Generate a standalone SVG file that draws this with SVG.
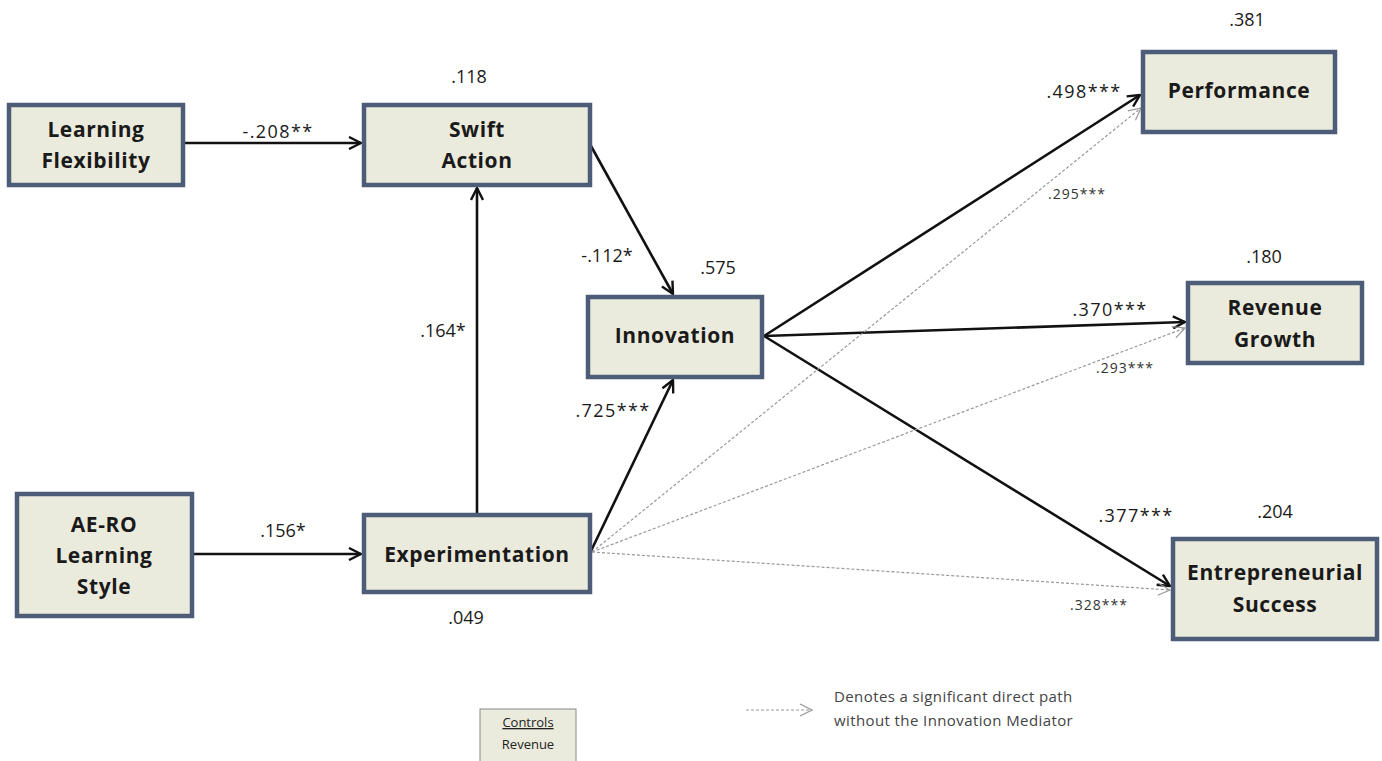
<svg xmlns="http://www.w3.org/2000/svg" width="1382" height="761" viewBox="0 0 1382 761">
<defs>
<marker id="ah" viewBox="0 0 14 14" refX="13" refY="7" markerWidth="14" markerHeight="14" markerUnits="userSpaceOnUse" orient="auto">
<path d="M1,1 L13,7 L1,13" fill="none" stroke="#111" stroke-width="2.4"/>
</marker>
<marker id="ahd" viewBox="0 0 14 14" refX="13" refY="7" markerWidth="14" markerHeight="14" markerUnits="userSpaceOnUse" orient="auto">
<path d="M1,1 L13,7 L1,13" fill="none" stroke="#999" stroke-width="1.2"/>
</marker>
<style>
.box{fill:#ebebdd;stroke:#4d5d78;stroke-width:4.5}
.nt{font-family:"Open Sans","Liberation Sans",sans-serif;font-weight:bold;font-size:21px;fill:#1a1a1a;text-anchor:middle;letter-spacing:0.6px}
.num{font-family:"Open Sans","Liberation Sans",sans-serif;font-size:18px;fill:#1a1a1a;text-anchor:middle}
.st{letter-spacing:1.4px}
.sm{font-family:"Open Sans","Liberation Sans",sans-serif;font-size:14px;fill:#333;text-anchor:middle;letter-spacing:1px}
.solid{stroke:#111;stroke-width:2.6;fill:none;marker-end:url(#ah)}
.dash{stroke:#999;stroke-width:1.2;stroke-dasharray:3 2;fill:none;marker-end:url(#ahd)}
.leg{font-family:"Open Sans","Liberation Sans",sans-serif;font-size:15px;fill:#444;letter-spacing:0.4px}
.ctl{font-family:"Open Sans","Liberation Sans",sans-serif;font-size:13px;fill:#222;text-anchor:middle}
</style>
</defs>
<rect width="1382" height="761" fill="#ffffff"/>

<g id="connectors">
<line class="solid" x1="185" y1="143" x2="361" y2="143"/>
<line class="solid" x1="591" y1="146" x2="673" y2="294"/>
<line class="solid" x1="477" y1="513" x2="477" y2="188"/>
<line class="solid" x1="194" y1="554" x2="361" y2="554"/>
<line class="solid" x1="591" y1="551" x2="673" y2="380"/>
<line class="solid" x1="764" y1="336" x2="1140" y2="95"/>
<line class="solid" x1="764" y1="336" x2="1185" y2="322"/>
<line class="solid" x1="764" y1="336" x2="1170" y2="586"/>
<line class="dash" x1="592" y1="552" x2="1141" y2="108"/>
<line class="dash" x1="592" y1="552" x2="1185" y2="328"/>
<line class="dash" x1="592" y1="552" x2="1170" y2="590"/>
<text class="num st" x="278" y="138">-.208**</text>
<text class="num" x="443" y="337">.164*</text>
<text class="num" x="607" y="262">-.112*</text>
<text class="num st" x="613" y="417">.725***</text>
<text class="num" x="283" y="537">.156*</text>
<text class="num st" x="1084" y="98">.498***</text>
<text class="num st" x="1110" y="316">.370***</text>
<text class="num st" x="1136" y="522">.377***</text>
<text class="sm" x="1077" y="199">.295***</text>
<text class="sm" x="1125" y="373">.293***</text>
<text class="sm" x="1099" y="610">.328***</text>
</g>

<g id="learning-flexibility">
<rect class="box" x="9" y="105" width="174" height="80"/>
<text class="nt" x="96" y="137">Learning</text>
<text class="nt" x="96" y="168">Flexibility</text>
</g>

<g id="swift-action">
<rect class="box" x="364" y="105" width="226" height="80"/>
<text class="nt" x="477" y="137">Swift</text>
<text class="nt" x="477" y="168">Action</text>
<text class="num" x="469" y="83">.118</text>
</g>

<g id="innovation">
<rect class="box" x="588" y="297" width="174" height="80"/>
<text class="nt" x="675" y="343">Innovation</text>
<text class="num" x="718" y="274">.575</text>
</g>

<g id="ae-ro">
<rect class="box" x="17" y="494" width="175" height="122"/>
<text class="nt" x="104" y="532">AE-RO</text>
<text class="nt" x="104" y="563">Learning</text>
<text class="nt" x="104" y="594">Style</text>
</g>

<g id="experimentation">
<rect class="box" x="364" y="515" width="226" height="77"/>
<text class="nt" x="477" y="562">Experimentation</text>
<text class="num" x="466" y="624">.049</text>
</g>

<g id="performance">
<rect class="box" x="1143" y="52" width="192" height="80"/>
<text class="nt" x="1239" y="98">Performance</text>
<text class="num" x="1247" y="26">.381</text>
</g>

<g id="revenue-growth">
<rect class="box" x="1188" y="283" width="174" height="80"/>
<text class="nt" x="1275" y="315">Revenue</text>
<text class="nt" x="1275" y="347">Growth</text>
<text class="num" x="1264" y="263">.180</text>
</g>

<g id="entrepreneurial-success">
<rect class="box" x="1173" y="539" width="204" height="100"/>
<text class="nt" x="1275" y="580">Entrepreneurial</text>
<text class="nt" x="1275" y="612">Success</text>
<text class="num" x="1275" y="518">.204</text>
</g>

<g id="controls">
<rect x="480" y="709" width="96" height="60" fill="#ebebdd" stroke="#888" stroke-width="1"/>
<text class="ctl" x="528" y="727" text-decoration="underline">Controls</text>
<text class="ctl" x="528" y="749">Revenue</text>
</g>

<g id="legend">
<line class="dash" x1="746" y1="710" x2="812" y2="710"/>
<text class="leg" x="834" y="702">Denotes a significant direct path</text>
<text class="leg" x="834" y="726">without the Innovation Mediator</text>
</g>
</svg>
